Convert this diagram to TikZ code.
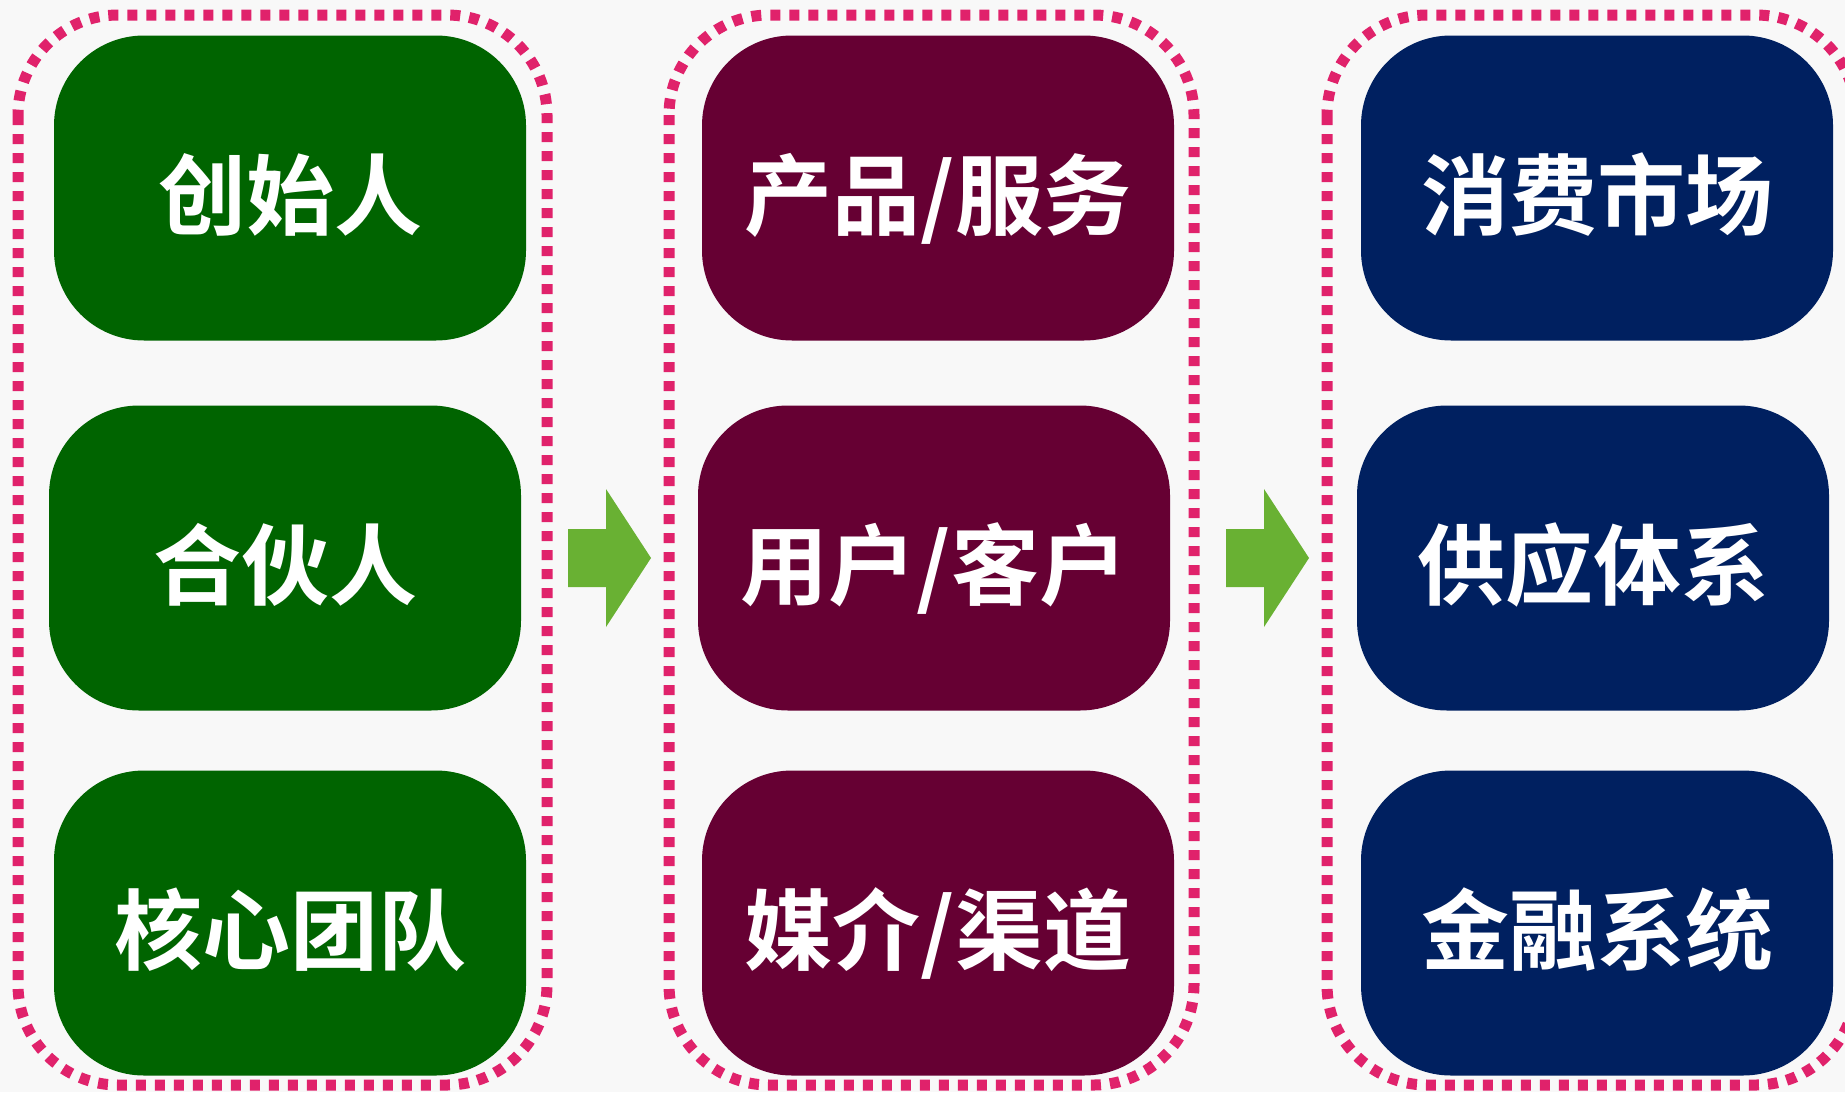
\documentclass[tikz,border=0pt]{standalone}
\usepackage{fontspec}
\newfontfamily\cjk{Noto Sans CJK SC Bold}
\definecolor{bgc}{HTML}{F8F8F8}
\definecolor{dotc}{HTML}{E0226B}
\definecolor{gbox}{HTML}{006400}
\definecolor{mbox}{HTML}{660033}
\definecolor{nbox}{HTML}{002060}
\definecolor{arr}{HTML}{69B133}
\tikzset{
  frame/.style={draw=dotc, line width=5.5pt, dash pattern=on 5pt off 4.5pt, rounded corners=50pt},
  item/.style={rounded corners=45pt, minimum width=236pt, minimum height=152.5pt, inner sep=0pt,
    text height=46pt, text depth=6pt,
    text=white, font=\cjk\fontsize{44}{50}\selectfont},
  gitem/.style={item, fill=gbox},
  mitem/.style={item, fill=mbox},
  nitem/.style={item, fill=nbox},
  blockarrow/.style={fill=arr}
}
\begin{document}
\begin{tikzpicture}[x=0.5pt,y=-0.5pt]
\useasboundingbox (0,0) rectangle (1845,1092);
\fill[bgc] (0,0) rectangle (1845,1092);
\begin{scope}
\clip (0,0) rectangle (1845,1092);
% frames
\draw[frame] (18,15) rectangle (547,1085);
\draw[frame] (669,15) rectangle (1194,1085);
\draw[frame] (1327,15) rectangle (1856,1085);
\end{scope}
% column 1
\node[gitem] (a1) at (290,188) {创始人};
\node[gitem] (a2) at (285,558) {合伙人};
\node[gitem] (a3) at (290,923) {核心团队};
% column 2
\node[mitem] (b1) at (938,188) {产品/服务};
\node[mitem] (b2) at (934,558) {用户/客户};
\node[mitem] (b3) at (938,923) {媒介/渠道};
% column 3
\node[nitem] (c1) at (1597,188) {消费市场};
\node[nitem] (c2) at (1593,558) {供应体系};
\node[nitem] (c3) at (1597,923) {金融系统};
% arrows
\fill[blockarrow] (568,529) -- (606,529) -- (606,489) -- (651,558) -- (606,627) -- (606,587) -- (568,587) -- cycle;
\fill[blockarrow] (1226,529) -- (1264,529) -- (1264,489) -- (1309,558) -- (1264,627) -- (1264,587) -- (1226,587) -- cycle;
\end{tikzpicture}
\end{document}
